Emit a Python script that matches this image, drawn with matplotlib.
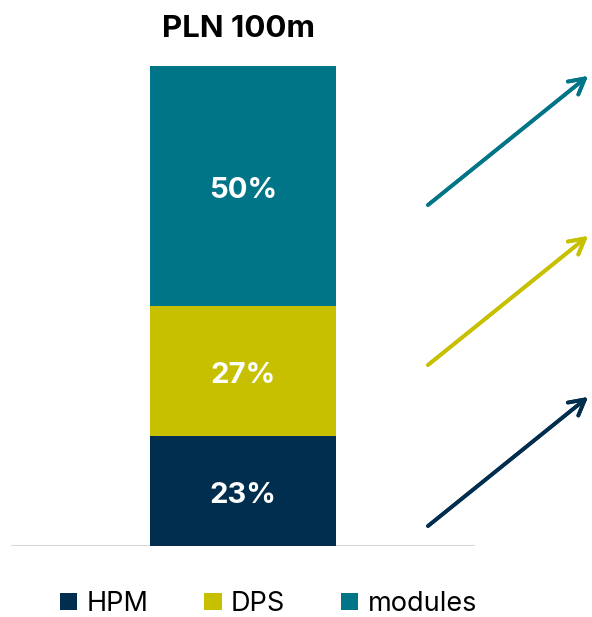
import matplotlib.pyplot as plt
from matplotlib.patches import Patch

plt.rcParams['font.family'] = ['Inter', 'DejaVu Sans']

# share of PLN 100m by segment, stacked bottom to top
segments = ['HPM', 'DPS', 'modules']
shares = [23, 27, 50]
colors = ['#012e4f', '#c6c000', '#017588']
title = 'PLN 100m'

fig = plt.figure(figsize=(5.92, 6.17), dpi=100)
W, H = 592, 617

# bar axes: 11..475 px wide, 66..546 px tall (from top)
ax = fig.add_axes([11 / W, (H - 546) / H, 464 / W, 480 / H])
ax.set_xlim(-1.25, 1.25)
ax.set_ylim(0, 100)
ax.axis('off')

bottom = 0
for name, val, col in zip(segments, shares, colors):
    ax.bar(0, val, width=1.0, bottom=bottom, color=col, zorder=2)
    ax.annotate(f'{val}%', (0, bottom + val / 2), xytext=(0, -5),
                textcoords='offset pixels', ha='center', va='center',
                color='white', fontsize=21, fontweight='bold', zorder=3)
    bottom += val

ax.axhline(0, color='#d9d9d9', lw=1.5, zorder=1)

fig.text(239 / W, 1 - 29 / H, title, ha='center', va='center',
         fontsize=22.5, fontweight='bold', color='black')

# trend arrows beside the bar, one per segment
arrow_starts = {'modules': 205, 'DPS': 365, 'HPM': 526}
for name, col in zip(segments, colors):
    y0 = arrow_starts[name]
    fig.add_artist(plt.annotate(
        '', xy=(588 / W, 1 - (y0 - 129) / H), xytext=(428 / W, 1 - y0 / H),
        xycoords='figure fraction', textcoords='figure fraction',
        arrowprops=dict(arrowstyle='->,head_length=1.1,head_width=0.6',
                        color=col, lw=2.7, shrinkA=0, shrinkB=0)))

handles = [Patch(facecolor=c, edgecolor='none') for c in colors]
fig.legend(handles, segments, loc='center left', bbox_to_anchor=(60 / W, 1 - 604 / H),
           ncol=3, frameon=False, fontsize=19.5, handlelength=0.63, handleheight=0.63,
           handletextpad=0.35, columnspacing=2.07, borderpad=0, borderaxespad=0)

fig.savefig('out.png', dpi=100)
